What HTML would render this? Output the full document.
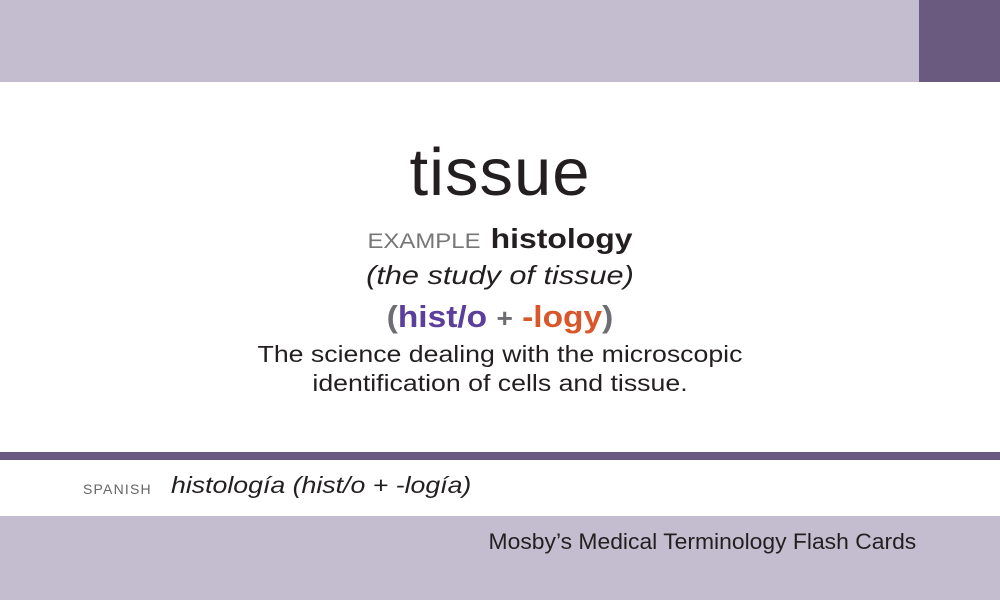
<!DOCTYPE html>
<html><head><meta charset="utf-8"><style>
body{margin:0;width:1000px;height:600px;position:relative;overflow:hidden;background:#fff;font-family:"Liberation Sans",sans-serif;}
.a{position:absolute;white-space:nowrap;}
.c{left:0;width:1000px;text-align:center;transform-origin:500px 0;}
</style></head><body>
<div class="a" style="left:0;top:0;width:1000px;height:82px;background:#c4bdd0"></div>
<div class="a" style="left:919px;top:0;width:81px;height:82px;background:#6b5a80"></div>
<div class="a c" style="top:135px;font-size:67px;line-height:76px;color:#231f20;letter-spacing:1px">tissue</div>
<div class="a c" style="top:222px;line-height:34px;transform:scaleX(1.14)"><span style="font-size:21px;color:#777">EXAMPLE</span>&nbsp;&nbsp;<span style="font-size:28px;font-weight:bold;color:#231f20">histology</span></div>
<div class="a c" style="top:259px;font-size:26px;line-height:32px;font-style:italic;color:#231f20;transform:scaleX(1.18)">(the study of tissue)</div>
<div class="a c" style="top:298px;font-size:31px;line-height:38px;font-weight:bold;color:#6d6e71;transform:scaleX(1.08)">(<span style="color:#5b3f9a">hist/o</span> <span style="font-size:26px">+</span> <span style="color:#d9582b">-logy</span>)</div>
<div class="a c" style="top:340px;font-size:23px;line-height:29px;color:#231f20;transform:scaleX(1.16)">The science dealing with the microscopic<br>identification of cells and tissue.</div>
<div class="a" style="left:0;top:452px;width:1000px;height:8px;background:#6b5a80"></div>
<div class="a" style="left:83px;top:481px;font-size:14px;letter-spacing:1.2px;color:#666">SPANISH</div>
<div class="a" style="left:171px;top:472px;font-size:23px;font-style:italic;color:#231f20;transform-origin:0 0;transform:scaleX(1.16)">histología (hist/o + -logía)</div>
<div class="a" style="left:0;top:516px;width:1000px;height:84px;background:#c4bdd0"></div>
<div class="a" style="right:84px;top:529px;font-size:22px;color:#231f20;transform-origin:100% 0;transform:scaleX(1.04)">Mosby’s Medical Terminology Flash Cards</div>
</body></html>
